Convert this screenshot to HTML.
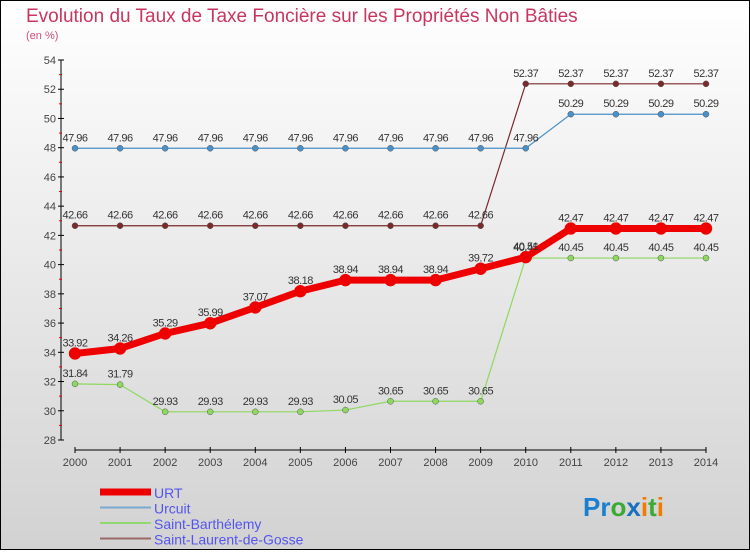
<!DOCTYPE html>
<html><head><meta charset="utf-8"><style>
body{margin:0}
svg text{font-family:"Liberation Sans",sans-serif}
</style></head><body>
<svg width="750" height="550" viewBox="0 0 750 550" xmlns="http://www.w3.org/2000/svg">
<defs><linearGradient id="bg" x1="0" y1="0" x2="0" y2="1"><stop offset="0" stop-color="#ffffff"/><stop offset="1" stop-color="#d2d2d2"/></linearGradient></defs>
<rect x="0.5" y="0.5" width="749" height="549" fill="url(#bg)" stroke="#000"/>
<text x="26" y="22" font-size="19" fill="#c8365f">Evolution du Taux de Taxe Foncière sur les Propriétés Non Bâties</text>
<text x="26" y="39" font-size="11" fill="#c8507a">(en %)</text>
<g id="axes"></g>
<g id="series"></g>
<g id="legend"></g>
<text x="583" y="516" font-size="26" font-weight="bold"><tspan fill="#1a7fd0">Pr</tspan><tspan fill="#3aaa35">o</tspan><tspan fill="#1a6fc0">x</tspan><tspan fill="#f07d00">i</tspan><tspan fill="#3aaa35">t</tspan><tspan fill="#f07d00">i</tspan></text>
</svg>
<script>
const years=[2000,2001,2002,2003,2004,2005,2006,2007,2008,2009,2010,2011,2012,2013,2014];
const urt=[33.92,34.26,35.29,35.99,37.07,38.18,38.94,38.94,38.94,39.72,40.51,42.47,42.47,42.47,42.47];
const urcuit=[47.96,47.96,47.96,47.96,47.96,47.96,47.96,47.96,47.96,47.96,47.96,50.29,50.29,50.29,50.29];
const stbarth=[31.84,31.79,29.93,29.93,29.93,29.93,30.05,30.65,30.65,30.65,40.45,40.45,40.45,40.45,40.45];
const stlaurent=[42.66,42.66,42.66,42.66,42.66,42.66,42.66,42.66,42.66,42.66,52.37,52.37,52.37,52.37,52.37];
const yTicks=[28,30,32,34,36,38,40,42,44,46,48,50,52,54];
const NS="http://www.w3.org/2000/svg";
const X=i=>75+i*(706-75)/(years.length-1);
const Y=v=>440-(v-28)*(380/26);
function mk(t,a,p){const e=document.createElementNS(NS,t);for(const k in a)e.setAttribute(k,a[k]);(p||document.getElementById('series')).appendChild(e);return e;}
const ax=document.getElementById('axes');
let l=mk('line',{x1:61,y1:60,x2:61,y2:440,stroke:'#000','stroke-width':1},ax);


yTicks.forEach(v=>{
 mk('line',{x1:58,x2:64,y1:Y(v),y2:Y(v),stroke:'#000'},ax);
 if(v<54)mk('line',{x1:59,x2:62,y1:Y(v+1),y2:Y(v+1),stroke:'#e00'},ax);
 const t=mk('text',{x:56,y:Y(v)+4,'font-size':11,'text-anchor':'end',fill:'#444'},ax);t.textContent=v;
 
 
});
l=mk('line',{x1:75,y1:450,x2:706,y2:450,stroke:'#000'},ax);


years.forEach((y,i)=>{
 mk('line',{x1:X(i),x2:X(i),y1:447,y2:453,stroke:'#000'},ax);
 const t=mk('text',{x:X(i),y:466,'font-size':11,'text-anchor':'middle',fill:'#444'},ax);t.textContent=y;
 
 
});
const series=[
 {n:'saint-laurent-de-gosse',d:stlaurent,c:'#7a2a2a',w:1.2,r:3,lab:'#333'},
 {n:'urcuit',d:urcuit,c:'#4a90c8',w:1.2,r:3,lab:'#333'},
 {n:'saint-barthelemy',d:stbarth,c:'#8ed860',w:1.2,r:3,lab:'#333'},
 {n:'urt',d:urt,c:'#ee0000',w:7,r:6,lab:'#333'}];
series.forEach(s=>{
 const p=mk('polyline',{points:s.d.map((v,i)=>X(i)+','+Y(v)).join(' '),fill:'none',stroke:s.c,'stroke-width':s.w});
 
 
 s.d.forEach((v,i)=>{
  const c=mk('circle',{cx:X(i),cy:Y(v),r:s.r,fill:s.c,stroke:s.w>2?s.c:'#555','stroke-width':0.5});
  
  
  const t=mk('text',{x:X(i),y:Y(v)-7,'font-size':11,'text-anchor':'middle',fill:s.lab,'letter-spacing':'-0.5'});
  t.textContent=v.toFixed(2);
  
  
 });
});
const lg=document.getElementById('legend');
[['URT','#ee0000',7],['Urcuit','#7aaad0',2],['Saint-Barthélemy','#90d870',2],['Saint-Laurent-de-Gosse','#9a6a6a',2]].forEach((e,i)=>{
 const y=492+i*15.5;
 const r=mk('line',{x1:100,x2:151,y1:y,y2:y,stroke:e[1],'stroke-width':e[2]},lg);
 
 
 const t=mk('text',{x:154,y:y+6,'font-size':14,fill:'#5555ee'},lg);t.textContent=e[0];
 
 
});
</script>
</body></html>
